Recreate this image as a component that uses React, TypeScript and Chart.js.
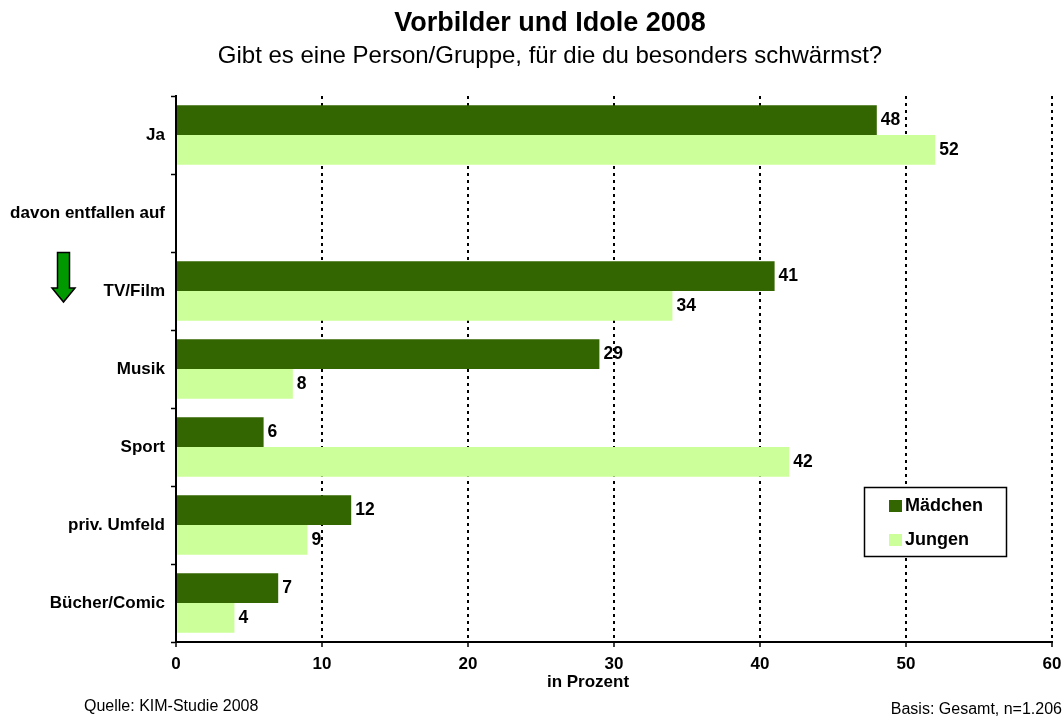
import React, { useEffect, useRef } from "react";
import { Chart, registerables } from "chart.js";

Chart.register(...registerables);

const categories = ["Ja", "davon entfallen auf", "TV/Film", "Musik", "Sport", "priv. Umfeld", "Bücher/Comic"];
const maedchen: (number | null)[] = [48, null, 41, 29, 6, 12, 7];
const jungen: (number | null)[] = [52, null, 34, 8, 42, 9, 4];
const seriesNames = ["Mädchen", "Jungen"];
const seriesColors = ["#336600", "#CCFF99"];
const xMin = 0;
const xMax = 60;
const xStep = 10;

const titleText = "Vorbilder und Idole 2008";
const subtitleText = "Gibt es eine Person/Gruppe, für die du besonders schwärmst?";
const axisTitle = "in Prozent";
const sourceText = "Quelle: KIM-Studie 2008";
const basisText = "Basis: Gesamt, n=1.206";

const FONT = "'Liberation Sans', Arial, Helvetica, sans-serif";

const overlayPlugin = {
  id: "overlay",
  afterDatasetsDraw(chart: any) {
    const ctx = chart.ctx;
    ctx.save();
    ctx.fillStyle = "#000";
    ctx.font = `bold 17.5px ${FONT}`;
    ctx.textAlign = "left";
    ctx.textBaseline = "middle";
    chart.data.datasets.forEach((ds: any, di: number) => {
      const meta = chart.getDatasetMeta(di);
      meta.data.forEach((el: any, i: number) => {
        const v = ds.data[i];
        if (v === null || v === undefined) return;
        ctx.fillText(String(v), el.x + 4, el.y);
      });
    });
    ctx.restore();
  },
  afterDraw(chart: any) {
    const ctx = chart.ctx;
    ctx.save();
    ctx.fillStyle = "#000";
    ctx.textAlign = "center";
    ctx.textBaseline = "alphabetic";
    ctx.font = `bold 27px ${FONT}`;
    ctx.fillText(titleText, 550, 31);
    ctx.font = `24px ${FONT}`;
    ctx.fillText(subtitleText, 550, 63);

    ctx.font = `bold 17px ${FONT}`;
    ctx.fillText(axisTitle, 588, 687);

    ctx.font = `16px ${FONT}`;
    ctx.textAlign = "left";
    ctx.fillText(sourceText, 84, 711);
    ctx.textAlign = "right";
    ctx.fillText(basisText, 1062, 714);

    // legend
    ctx.fillStyle = "#fff";
    ctx.fillRect(864.5, 487.5, 142, 69);
    ctx.strokeStyle = "#000";
    ctx.lineWidth = 1.5;
    ctx.strokeRect(864.5, 487.5, 142, 69);
    const rows = [506, 540];
    ctx.font = `bold 18px ${FONT}`;
    ctx.textAlign = "left";
    ctx.textBaseline = "middle";
    chart.data.datasets.forEach((ds: any, i: number) => {
      ctx.fillStyle = ds.backgroundColor;
      ctx.fillRect(889, rows[i] - 6, 13, 12);
      ctx.fillStyle = "#000";
      ctx.fillText(ds.label, 905, rows[i]);
    });

    // arrow
    ctx.beginPath();
    ctx.moveTo(57.5, 252.5);
    ctx.lineTo(69.5, 252.5);
    ctx.lineTo(69.5, 288);
    ctx.lineTo(75, 288);
    ctx.lineTo(63.5, 302);
    ctx.lineTo(52, 288);
    ctx.lineTo(57.5, 288);
    ctx.closePath();
    ctx.fillStyle = "#009900";
    ctx.fill();
    ctx.strokeStyle = "#000";
    ctx.lineWidth = 1.5;
    ctx.stroke();
    ctx.restore();
  },
};

export default function App() {
  const ref = useRef<HTMLCanvasElement | null>(null);
  useEffect(() => {
    document.body.style.margin = "0";
    if (!ref.current) return;
    const chart = new Chart(ref.current, {
      type: "bar",
      data: {
        labels: categories,
        datasets: [
          { label: seriesNames[0], data: maedchen, backgroundColor: seriesColors[0], categoryPercentage: 0.76, barPercentage: 1 },
          { label: seriesNames[1], data: jungen, backgroundColor: seriesColors[1], categoryPercentage: 0.76, barPercentage: 1 },
        ],
      },
      options: {
        indexAxis: "y",
        responsive: false,
        animation: false,
        devicePixelRatio: 1,
        layout: { padding: { top: 96, right: 12, left: 0, bottom: 48 } },
        plugins: { legend: { display: false }, title: { display: false }, tooltip: { enabled: false } },
        scales: {
          x: {
            min: xMin,
            max: xMax,
            ticks: { stepSize: xStep, color: "#000", font: { family: FONT, size: 17, weight: "bold" }, padding: 7, maxRotation: 0 },
            grid: { color: "#000", lineWidth: 2, tickLength: 5, tickColor: "#000", tickWidth: 1.5, drawOnChartArea: true },
            border: { color: "#000", width: 2, dash: [3, 4] },
            afterFit: (s: any) => { s.height = 30; s.paddingLeft = 0; s.paddingRight = 0; },
          },
          y: {
            ticks: { color: "#000", font: { family: FONT, size: 17, weight: "bold" }, padding: 6 },
            grid: { drawOnChartArea: false, tickLength: 5, tickColor: "#000", tickWidth: 1.5, color: "#000" },
            border: { color: "#000", width: 2 },
            afterFit: (s: any) => { s.width = 176; s.paddingTop = 0; s.paddingBottom = 0; },
          },
        },
      },
      plugins: [overlayPlugin],
    } as any);
    return () => chart.destroy();
  }, []);
  return <canvas ref={ref} width={1064} height={720} style={{ display: "block" }} />;
}
